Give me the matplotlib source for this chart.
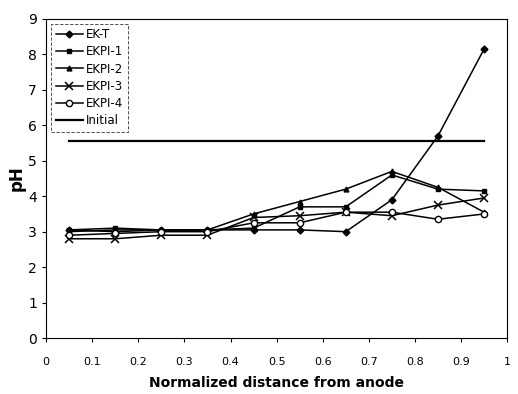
import matplotlib.pyplot as plt

x = [0.05, 0.15, 0.25, 0.35, 0.45, 0.55, 0.65, 0.75, 0.85, 0.95]
ek_t = [3.05, 3.0, 3.05, 3.05, 3.05, 3.05, 3.0, 3.9, 5.7, 8.15]
ekpi_1 = [3.05, 3.1, 3.05, 3.05, 3.1, 3.7, 3.7, 4.6, 4.2, 4.15]
ekpi_2 = [3.0, 3.05, 3.05, 3.05, 3.5, 3.85, 4.2, 4.7, 4.25, 3.55]
ekpi_3 = [2.8, 2.8, 2.9, 2.9, 3.4, 3.45, 3.55, 3.45, 3.75, 3.95]
ekpi_4 = [2.9, 2.95, 3.0, 3.0, 3.25, 3.25, 3.55, 3.55, 3.35, 3.5]
initial_x = [0.05, 0.95]
initial_ph = [5.55, 5.55]

fig = plt.figure(figsize=(5.18, 3.94), dpi=100)
ax = fig.add_axes([0.089, 0.142, 0.890, 0.810])

ax.plot(x, ek_t, color='black', lw=1.1, marker='D', ms=3.5, label='EK-T')
ax.plot(x, ekpi_1, color='black', lw=1.1, marker='s', ms=3.5, label='EKPI-1')
ax.plot(x, ekpi_2, color='black', lw=1.1, marker='^', ms=3.5, label='EKPI-2')
ax.plot(x, ekpi_3, color='black', lw=1.1, marker='x', ms=5.5, mew=1.1, label='EKPI-3')
ax.plot(x, ekpi_4, color='black', lw=1.1, marker='o', ms=4.5, mfc='white', label='EKPI-4')
ax.plot(initial_x, initial_ph, color='black', lw=1.6, label='Initial')

ax.set_xlim(0, 1)
ax.set_ylim(0, 9)
ax.set_xticks([0, 0.1, 0.2, 0.3, 0.4, 0.5, 0.6, 0.7, 0.8, 0.9, 1])
ax.set_xticklabels(['0', '0.1', '0.2', '0.3', '0.4', '0.5', '0.6', '0.7', '0.8', '0.9', '1'])
ax.set_yticks(range(10))
ax.tick_params(axis='x', labelsize=8, length=3, pad=11)
ax.tick_params(axis='y', labelsize=10, length=3)

ax.set_xlabel('Normalized distance from anode', fontsize=10, fontweight='bold', labelpad=6)
ax.set_ylabel('pH', fontsize=12, fontweight='bold', labelpad=2)

leg = ax.legend(loc='upper left', fontsize=8.5, frameon=True, fancybox=False,
                edgecolor='black', handlelength=2.3, handletextpad=0.3,
                labelspacing=0.35, borderaxespad=0.4)
leg.get_frame().set_linewidth(0.6)
leg.get_frame().set_linestyle((0, (4, 2)))

plt.savefig('out.png', dpi=100)
